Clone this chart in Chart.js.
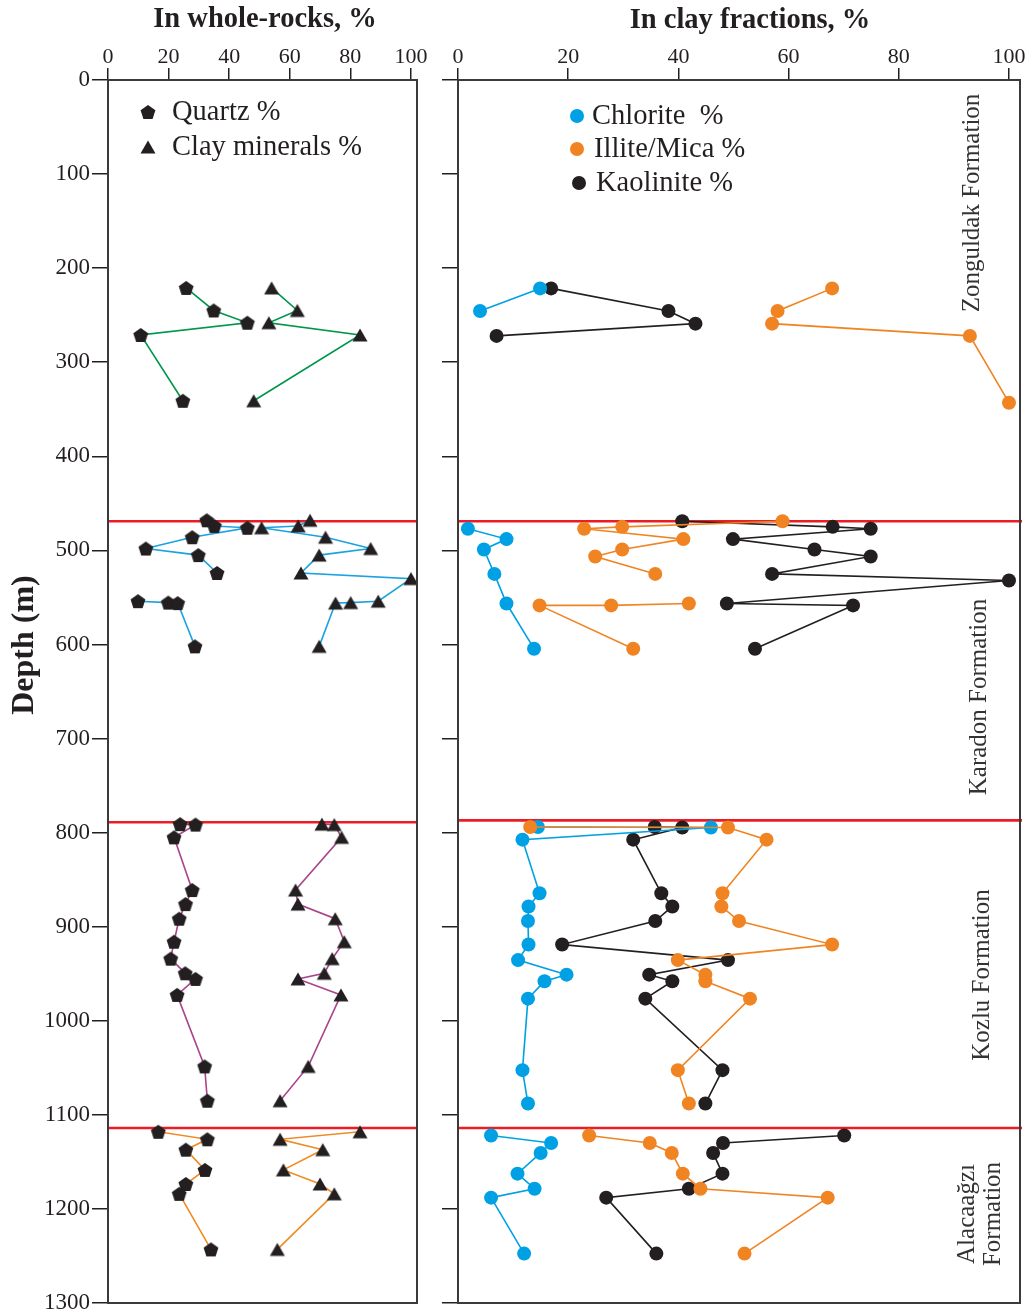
<!DOCTYPE html>
<html>
<head>
<meta charset="utf-8">
<title>Mineral composition vs depth</title>
<script src="https://cdn.jsdelivr.net/npm/chart.js@4.4.1/dist/chart.umd.min.js"></script>
<style>
  html, body { margin: 0; padding: 0; background: #fff; overflow: hidden; }
  #wrap { position: relative; width: 1032px; height: 1315px; }
  #wrap canvas { position: absolute; top: 0; }
  #rockChart { left: 0; }
  #clayChart { left: 440px; }
</style>
</head>
<body>
<div id="wrap">
  <canvas id="rockChart" width="440" height="1315"></canvas>
  <canvas id="clayChart" width="592" height="1315"></canvas>
</div>
<script>
const SERIF = '"Liberation Serif", "Times New Roman", serif';
const INK = '#231f20';

// axes
const depthTicks = [0, 100, 200, 300, 400, 500, 600, 700, 800, 900, 1000, 1100, 1200, 1300];
const pctTicks = [0, 20, 40, 60, 80, 100];
const rockBoundaries = [469, 789, 1114];
const clayBoundaries = [469, 787, 1114];

// ---- whole-rock samples (depth m, %) ----
const zonguldakRockDepth = [221, 245, 258, 271, 341];
const zonguldakQuartz    = [25.8, 34.9, 46.0, 10.8, 24.7];
const zonguldakClay      = [54.0, 62.5, 53.1, 83.2, 48.1];

const karadonRockDepth = [468, 474, 476, 486, 498, 505, 524, 530, 554, 555.5, 556, 602];
const karadonQuartz    = [32.6, 35.1, 46.0, 27.8, 12.5, 29.8, 36.0, null, 9.9, 19.9, 23.0, 28.7];
const karadonClay      = [66.7, 62.8, 50.7, 71.8, 86.7, 69.7, 63.7, 100, 89.2, 80.1, 75.1, 69.7];

const kozluRockDepth = [791, 791.5, 805, 861, 876, 891.5, 916, 934, 949.5, 955.5, 972.5, 1048.5, 1085];
const kozluQuartz    = [23.8, 28.9, 21.8, 27.8, 25.6, 23.5, 21.8, 20.7, 25.5, 28.9, 22.8, 31.9, 32.8];
const kozluClay      = [70.6, 74.7, 77.1, 61.9, 62.7, 75.0, 78.0, 74.0, 71.4, 62.7, 76.9, 66.1, 56.8];

const alacaagziRockDepth = [1118, 1126, 1137, 1158.5, 1173.5, 1184, 1243];
const alacaagziQuartz    = [16.6, 32.8, 25.7, 32.0, 25.7, 23.5, 34.0];
const alacaagziClay      = [83.2, 56.8, 70.9, 57.9, 70.0, 74.7, 55.9];

// ---- clay-fraction samples (depth m, %) ----
const zonguldakClayDepth  = [221.5, 245.5, 259, 272, 343];
const zonguldakChlorite   = [14.9, 4.0, null, null, null];
const zonguldakIllite     = [67.9, 58.0, 57.0, 92.9, 100];
const zonguldakKaolinite  = [16.9, 38.2, 43.1, 7.0, null];

const karadonClayDepth = [469, 475, 477, 488, 499, 506.5, 525, 532, 556.5, 558.5, 558.5, 604.5];
const karadonChlorite  = [null, null, 1.8, 8.8, 4.7, null, 6.6, null, 8.8, null, null, 13.8];
const karadonIllite    = [58.9, 29.8, 22.9, 40.9, 29.8, 24.9, 35.8, null, 41.9, 27.8, 14.8, 31.8];
const karadonKaolinite = [40.7, 68.0, 74.9, 49.9, 64.7, 74.9, 57.0, 100, 48.8, 71.7, null, 53.9];

const kozluClayDepth = [794, 794.5, 807.5, 864.5, 878.5, 894, 919, 935.5, 951, 958, 976.5, 1052.5, 1088];
const kozluChlorite  = [14.5, 45.9, 11.7, 14.8, 12.8, 12.7, 12.8, 10.9, 19.7, 15.7, 12.7, 11.7, 12.7];
const kozluIllite    = [13.1, 49.0, 56.0, 48.0, 47.8, 51.0, 67.9, 39.9, 44.9, 44.9, 53.0, 39.9, 41.9];
const kozluKaolinite = [35.7, 40.7, 31.8, 36.9, 38.9, 35.8, 18.9, 49.0, 34.7, 38.9, 34.0, 48.0, 44.9];

const alacaagziClayDepth = [1122, 1130, 1140.5, 1162.5, 1178.5, 1188, 1247.5];
const alacaagziChlorite  = [6.0, 16.9, 15.0, 10.8, 13.9, 6.0, 12.0];
const alacaagziIllite    = [23.8, 34.8, 38.8, 40.8, 44.0, 67.1, 52.0];
const alacaagziKaolinite = [70.1, 48.1, 46.3, 48.0, 41.9, 26.9, 36.0];

// marker sprites for the whole-rock panel
function makeMarker(size, tracePath) {
  const c = document.createElement('canvas');
  c.width = c.height = size;
  const g = c.getContext('2d');
  g.fillStyle = INK;
  g.beginPath();
  tracePath(g, size / 2);
  g.closePath();
  g.fill();
  return c;
}
const pentagon = makeMarker(18, (g, c) => {
  const r = 7.8, cy = c + 0.0955 * r;
  for (let k = 0; k < 5; k++) {
    const a = -Math.PI / 2 + k * 2 * Math.PI / 5;
    g.lineTo(c + r * Math.cos(a), cy + r * Math.sin(a));
  }
});
const triangle = makeMarker(18, (g, c) => {
  const w = 15, h = 13;
  g.moveTo(c, c - h / 2);
  g.lineTo(c + w / 2, c + h / 2);
  g.lineTo(c - w / 2, c + h / 2);
});

// depth/value pairs -> scatter points; joinGaps drops missing values so the line runs on
function pts(depths, values, joinGaps) {
  const out = [];
  depths.forEach((d, i) => {
    if (values[i] === null && joinGaps) return;
    out.push({ x: values[i], y: d });
  });
  return out;
}

function rockSeries(depths, values, marker, color) {
  return {
    data: pts(depths, values, false),
    showLine: true,
    borderColor: color,
    borderWidth: 1.6,
    pointStyle: marker,
    pointRadius: 7,
    pointHoverRadius: 7
  };
}

function claySeries(depths, values, fill, lineColor, joinGaps) {
  return {
    data: pts(depths, values, joinGaps),
    showLine: true,
    borderColor: lineColor,
    borderWidth: 1.6,
    pointStyle: 'circle',
    pointRadius: 7,
    pointHoverRadius: 7,
    pointBackgroundColor: fill,
    pointBorderWidth: 0
  };
}

const GREEN = '#00964b', BLUE_LINE = '#1aa3e0', PURPLE = '#a9458a', ORANGE_LINE = '#f28a22';
const CHLORITE = '#00a1e4', ILLITE = '#f08422', KAOLINITE = INK;

const rockDatasets = [
  rockSeries(zonguldakRockDepth, zonguldakQuartz, pentagon, GREEN),
  rockSeries(zonguldakRockDepth, zonguldakClay, triangle, GREEN),
  rockSeries(karadonRockDepth, karadonQuartz, pentagon, BLUE_LINE),
  rockSeries(karadonRockDepth, karadonClay, triangle, BLUE_LINE),
  rockSeries(kozluRockDepth, kozluQuartz, pentagon, PURPLE),
  rockSeries(kozluRockDepth, kozluClay, triangle, PURPLE),
  rockSeries(alacaagziRockDepth, alacaagziQuartz, pentagon, ORANGE_LINE),
  rockSeries(alacaagziRockDepth, alacaagziClay, triangle, ORANGE_LINE)
];

const clayDatasets = [];
[
  [zonguldakClayDepth, zonguldakChlorite, zonguldakIllite, zonguldakKaolinite],
  [karadonClayDepth, karadonChlorite, karadonIllite, karadonKaolinite],
  [kozluClayDepth, kozluChlorite, kozluIllite, kozluKaolinite],
  [alacaagziClayDepth, alacaagziChlorite, alacaagziIllite, alacaagziKaolinite]
].forEach(([depth, chl, ill, kao]) => {
  clayDatasets.push(
    claySeries(depth, ill, ILLITE, ILLITE, false),
    claySeries(depth, chl, CHLORITE, CHLORITE, true),
    claySeries(depth, kao, KAOLINITE, KAOLINITE, true)
  );
});

// fixed axis boxes; label overhang must not shrink the plot area
function pctScale() {
  return {
    type: 'linear', position: 'top', min: 0, max: 102,
    afterBuildTicks: s => { s.ticks = pctTicks.map(v => ({ value: v })); },
    afterFit: s => { s.height = 80; s.paddingLeft = 0; s.paddingRight = 0; },
    grid: { drawOnChartArea: false, tickLength: 12, color: INK, lineWidth: 1.5 },
    border: { display: false },
    ticks: { padding: 0, maxRotation: 0, color: INK, font: { family: SERIF, size: 22, lineHeight: 1 }, callback: v => String(v) }
  };
}

function depthScale(showLabels, width, tickLen) {
  return {
    type: 'linear', reverse: true, min: 0, max: 1300,
    afterBuildTicks: s => { s.ticks = depthTicks.map(v => ({ value: v })); },
    afterFit: s => { s.width = width; s.paddingTop = 0; s.paddingBottom = 0; },
    grid: { drawOnChartArea: false, tickLength: tickLen, color: INK, lineWidth: 1.5 },
    border: { display: false },
    ticks: { display: showLabels, padding: 2, color: INK, font: { family: SERIF, size: 23 }, callback: v => String(v) }
  };
}

// frame, formation boundaries, titles, in-plot legend, formation names
const panelDecor = {
  id: 'panelDecor',
  beforeDatasetsDraw(chart, args, opts) {
    const { ctx, chartArea: a, scales: { y } } = chart;
    ctx.save();
    ctx.strokeStyle = '#ec1c24';
    ctx.lineWidth = 2.6;
    opts.boundaries.forEach(d => {
      const py = y.getPixelForValue(d);
      ctx.beginPath();
      ctx.moveTo(a.left, py);
      ctx.lineTo(a.right + (opts.overhang || 0), py);
      ctx.stroke();
    });
    ctx.restore();
  },
  afterDraw(chart, args, opts) {
    const { ctx, chartArea: a } = chart;
    ctx.save();
    ctx.strokeStyle = '#3a3a3a';
    ctx.lineWidth = 2;
    ctx.strokeRect(a.left, a.top, a.right - a.left, a.bottom - a.top);

    ctx.fillStyle = INK;
    ctx.textBaseline = 'middle';
    ctx.textAlign = 'center';
    ctx.font = `bold 28.5px ${SERIF}`;
    ctx.fillText(opts.title[0], opts.title[1], opts.title[2]);

    if (opts.axisTitle) {
      const [txt, x, y] = opts.axisTitle;
      ctx.save();
      ctx.translate(x, y);
      ctx.rotate(-Math.PI / 2);
      ctx.font = `bold 32px ${SERIF}`;
      ctx.fillText(txt, 0, 0);
      ctx.restore();
    }

    ctx.textAlign = 'left';
    ctx.font = `28.5px ${SERIF}`;
    opts.legend.forEach(item => {
      if (item.sprite) {
        ctx.drawImage(item.sprite, item.mx - item.sprite.width / 2, item.y - item.sprite.height / 2);
      } else {
        ctx.beginPath();
        ctx.fillStyle = item.color;
        ctx.arc(item.mx, item.y, 7, 0, Math.PI * 2);
        ctx.fill();
      }
      ctx.fillStyle = INK;
      ctx.fillText(item.label, item.tx, item.y + 1);
    });

    ctx.textAlign = 'center';
    ctx.font = `25px ${SERIF}`;
    ctx.fillStyle = '#333';
    (opts.formations || []).forEach(([txt, x, y]) => {
      ctx.save();
      ctx.translate(x, y);
      ctx.rotate(-Math.PI / 2);
      ctx.fillText(txt, 0, 0);
      ctx.restore();
    });
    ctx.restore();
  }
};

Chart.defaults.font.family = SERIF;

new Chart(document.getElementById('rockChart'), {
  type: 'scatter',
  data: { datasets: rockDatasets },
  options: {
    responsive: false,
    animation: false,
    events: [],
    layout: { padding: { left: 0, top: 0, right: 23, bottom: 12 } },
    scales: { x: pctScale(), y: depthScale(true, 108, 16) },
    plugins: {
      legend: { display: false },
      tooltip: { enabled: false },
      panelDecor: {
        boundaries: rockBoundaries,
        title: ['In whole-rocks, %', 265, 20],
        axisTitle: ['Depth (m)', 25, 645],
        legend: [
          { sprite: pentagon, mx: 148, tx: 172, y: 112, label: 'Quartz %' },
          { sprite: triangle, mx: 148, tx: 172, y: 147, label: 'Clay minerals %' }
        ]
      }
    }
  },
  plugins: [panelDecor]
});

new Chart(document.getElementById('clayChart'), {
  type: 'scatter',
  data: { datasets: clayDatasets },
  options: {
    responsive: false,
    animation: false,
    events: [],
    layout: { padding: { left: 0, top: 0, right: 12, bottom: 12 } },
    scales: { x: pctScale(), y: depthScale(false, 18, 16) },
    plugins: {
      legend: { display: false },
      tooltip: { enabled: false },
      panelDecor: {
        boundaries: clayBoundaries,
        overhang: 2,
        title: ['In clay fractions, %', 310, 21],
        legend: [
          { color: CHLORITE, mx: 137, tx: 152, y: 116, label: 'Chlorite  %' },
          { color: ILLITE, mx: 137, tx: 154, y: 149, label: 'Illite/Mica %' },
          { color: KAOLINITE, mx: 139, tx: 156, y: 183, label: 'Kaolinite %' }
        ],
        formations: [
          ['Zonguldak Formation', 532, 203],
          ['Karadon Formation', 539, 697],
          ['Kozlu Formation', 542, 975],
          ['Alacaağzı', 527, 1214],
          ['Formation', 553, 1214]
        ]
      }
    }
  },
  plugins: [panelDecor]
});
</script>
</body>
</html>
